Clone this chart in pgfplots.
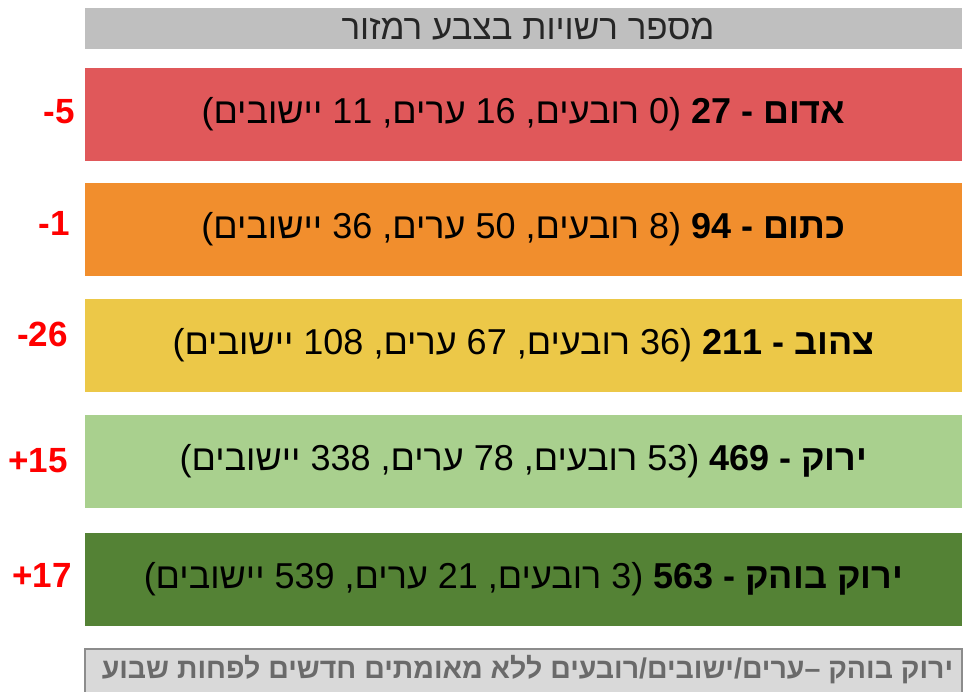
\documentclass[border=0pt]{standalone}
\usepackage{pgfplots}
\pgfplotsset{compat=1.18}
\usepackage{fontspec}
\setmainfont{Liberation Sans}
\newfontfamily\heb[Script=Hebrew]{Liberation Sans}
\TeXXeTstate=1
\definecolor{cred}{HTML}{E0585A}
\definecolor{corange}{HTML}{F18E2D}
\definecolor{cyellow}{HTML}{ECC848}
\definecolor{clgreen}{HTML}{A9D08E}
\definecolor{cdgreen}{HTML}{548235}
\definecolor{chead}{HTML}{BFBFBF}
\definecolor{cfoot}{HTML}{D9D9D9}
\definecolor{cfootb}{HTML}{8C8C8C}
\definecolor{cfoottext}{HTML}{6A6A6A}
\begin{document}
\begin{tikzpicture}
\begin{axis}[
  scale only axis, width=964pt, height=691pt,
  xmin=-85, xmax=879, ymin=0, ymax=691, y dir=reverse,
  axis lines=none, clip=true,
]
% header
\addplot[xbar, bar shift=0pt, bar width=41, fill=chead, draw=none] coordinates {(877,28.5)};
% traffic light bars
\addplot[xbar, bar shift=0pt, bar width=93, fill=cred, draw=none] coordinates {(877,114)};
\addplot[xbar, bar shift=0pt, bar width=93, fill=corange, draw=none] coordinates {(877,229)};
\addplot[xbar, bar shift=0pt, bar width=93, fill=cyellow, draw=none] coordinates {(877,345)};
\addplot[xbar, bar shift=0pt, bar width=93, fill=clgreen, draw=none] coordinates {(877,461)};
\addplot[xbar, bar shift=0pt, bar width=93, fill=cdgreen, draw=none] coordinates {(877,579)};
% footer
\addplot[xbar, bar shift=0pt, bar width=48, fill=cfoot, draw=cfootb, line width=2pt] coordinates {(877,673)};

% header text
\node[text=black!85] at (axis cs:443,29) {\heb\fontsize{35}{40}\selectfont\beginR מספר רשויות בצבע רמזור\endR};
% bar texts
\node at (axis cs:438.5,114) {\heb\fontsize{36}{42}\selectfont\beginR\textbf{אדום - 27} (0 רובעים, 16 ערים, 11 יישובים)\endR};
\node at (axis cs:438.5,229) {\heb\fontsize{36}{42}\selectfont\beginR\textbf{כתום - 94} (8 רובעים, 50 ערים, 36 יישובים)\endR};
\node at (axis cs:438.5,345) {\heb\fontsize{36}{42}\selectfont\beginR\textbf{צהוב - 211} (36 רובעים, 67 ערים, 108 יישובים)\endR};
\node at (axis cs:438.5,461) {\heb\fontsize{36}{42}\selectfont\beginR\textbf{ירוק - 469} (53 רובעים, 78 ערים, 338 יישובים)\endR};
\node at (axis cs:438.5,579) {\heb\fontsize{36}{42}\selectfont\beginR\textbf{ירוק בוהק - 563} (3 רובעים, 21 ערים, 539 יישובים)\endR};
% changes
\node[anchor=east, inner sep=0pt, text=red, font=\bfseries\fontsize{35}{40}\selectfont] at (axis cs:-10,112) {-5};
\node[anchor=east, inner sep=0pt, text=red, font=\bfseries\fontsize{35}{40}\selectfont] at (axis cs:-15,223) {-1};
\node[anchor=east, inner sep=0pt, text=red, font=\bfseries\fontsize{35}{40}\selectfont] at (axis cs:-17,334) {-26};
\node[anchor=east, inner sep=0pt, text=red, font=\bfseries\fontsize{35}{40}\selectfont] at (axis cs:-17,461) {+15};
\node[anchor=east, inner sep=0pt, text=red, font=\bfseries\fontsize{35}{40}\selectfont] at (axis cs:-13,575) {+17};
% footer text
\node[text=cfoottext] at (axis cs:442.5,670) {\heb\bfseries\fontsize{28.5}{33}\selectfont\beginR ירוק בוהק –ערים/ישובים/רובעים ללא מאומתים חדשים לפחות שבוע\endR};
\end{axis}
\pgfresetboundingbox
\path (current axis.south west) rectangle (current axis.north east);
\end{tikzpicture}
\end{document}
